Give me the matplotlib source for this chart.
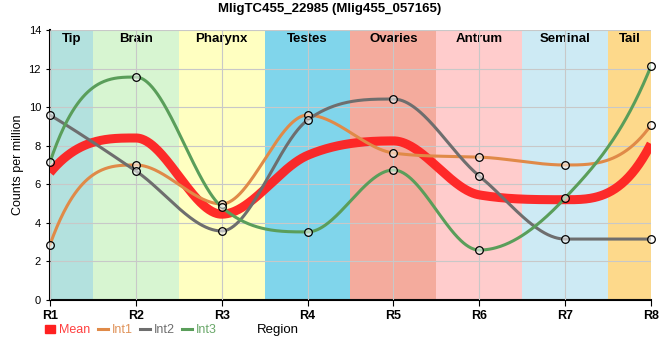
import numpy as np
import matplotlib
matplotlib.use("Agg")
import matplotlib.pyplot as plt
from matplotlib.patches import Patch
from matplotlib.lines import Line2D

plt.rcParams['font.family'] = ['Liberation Sans Narrow', 'Liberation Sans', 'DejaVu Sans']

regions = ["R1", "R2", "R3", "R4", "R5", "R6", "R7", "R8"]
mean = [6.6, 8.4, 4.45, 7.5, 8.25, 5.45, 5.2, 8.1]
int1 = [2.87, 7.0, 4.98, 9.59, 7.62, 7.41, 7.0, 9.07]
int2 = [9.59, 6.69, 3.58, 9.33, 10.42, 6.43, 3.16, 3.16]
int3 = [7.15, 11.56, 4.82, 3.53, 6.74, 2.59, 5.29, 12.13]

band_names = ["Tip", "Brain", "Pharynx", "Testes", "Ovaries", "Antrum", "Seminal", "Tail"]
band_colors = ["#b3e1de", "#d7f5d1", "#ffffc1", "#80d5eb", "#f4ab9d", "#ffcccc", "#cdeaf4", "#fdd98b"]


def smooth(y, xs):
    # monotone cubic (Fritsch-Carlson) through the points
    y = np.asarray(y, float)
    n = len(y)
    d = np.diff(y)
    m = np.zeros(n)
    for i in range(1, n - 1):
        if d[i - 1] * d[i] > 0:
            m[i] = (d[i - 1] + d[i]) / 2
    m[0] = 3 * d[0] - 2 * m[1]
    m[-1] = 3 * d[-1] - 2 * m[-2]
    for i, k in [(0, 0), (n - 1, n - 2)]:
        if m[i] * d[k] <= 0:
            m[i] = 0
        elif abs(m[i]) > 3 * abs(d[k]):
            m[i] = 3 * d[k]
    for k in range(n - 1):
        if d[k] == 0:
            m[k] = m[k + 1] = 0
            continue
        a, b = m[k] / d[k], m[k + 1] / d[k]
        if a * a + b * b > 9:
            tau = 3 / np.sqrt(a * a + b * b)
            m[k], m[k + 1] = tau * a * d[k], tau * b * d[k]
    out = np.empty_like(xs)
    for j, xv in enumerate(xs):
        k = min(int(np.floor(xv)), n - 2)
        t = xv - k
        out[j] = ((2 * t**3 - 3 * t**2 + 1) * y[k] + (t**3 - 2 * t**2 + t) * m[k]
                  + (-2 * t**3 + 3 * t**2) * y[k + 1] + (t**3 - t**2) * m[k + 1])
    return out


x = np.arange(len(regions))
xs = np.linspace(0, len(regions) - 1, 700)

fig = plt.figure(figsize=(6.6, 3.6), dpi=100)
ax = fig.add_axes([50 / 660, 60 / 360, 601 / 660, 270 / 360])

edges = [0, 0.5, 1.5, 2.5, 3.5, 4.5, 5.5, 6.5, 7]
for i, name in enumerate(band_names):
    ax.axvspan(edges[i], edges[i + 1], color=band_colors[i], lw=0, zorder=0)
    ax.text((edges[i] + edges[i + 1]) / 2, 13.85, name, ha="center", va="top",
            fontsize=9.5, fontweight="bold", zorder=1)

ax.grid(True, color="#c8c8c8", lw=0.8, zorder=1)
ax.set_axisbelow(False)

ax.plot(xs, smooth(mean, xs), color="#ff2020", lw=6.5, alpha=0.95, zorder=3, solid_capstyle="butt")
for vals, col in [(int1, "#e08a48"), (int2, "#6e6e6e"), (int3, "#5a9e5a")]:
    ax.plot(xs, smooth(vals, xs), color=col, lw=2.2, zorder=4)
    ax.plot(x, vals, "o", mfc=(1, 1, 1, 0.55), mec="black", ms=5.5, mew=0.9, zorder=5, clip_on=False)

ax.set_xlim(0, 7)
ax.set_ylim(0, 14)
ax.set_xticks(x)
ax.set_xticklabels(regions, fontsize=9, fontweight="bold")
ax.set_yticks(range(0, 15, 2))
ax.tick_params(axis="y", labelsize=8, length=3)
ax.tick_params(axis="x", length=4)
for s in ["top", "right"]:
    ax.spines[s].set_visible(False)
ax.spines["left"].set_linewidth(1.5)
ax.spines["bottom"].set_linewidth(1.5)
ax.set_ylabel("Counts per million", fontsize=9, labelpad=3)

fig.text(0.5, 0.975, "MligTC455_22985 (Mlig455_057165)", ha="center", va="center",
         fontsize=9.5, fontweight="bold")
fig.text(278 / 660, 30 / 360, "Region", ha="center", va="center", fontsize=9.5)

handles = [Patch(color="#ff2020", label="Mean"),
           Line2D([], [], color="#e08a48", lw=2.2, label="Int1"),
           Line2D([], [], color="#6e6e6e", lw=2.2, label="Int2"),
           Line2D([], [], color="#5a9e5a", lw=2.2, label="Int3")]
leg = fig.legend(handles=handles, loc="center left", bbox_to_anchor=(34 / 660, 30 / 360), ncol=4,
                 frameon=False, fontsize=9, handlelength=0.8, handleheight=0.6,
                 handletextpad=0.3, columnspacing=0.6)
for t, h in zip(leg.get_texts(), ["#ff4040", "#e0935a", "#6e6e6e", "#6aa86a"]):
    t.set_color(h)

fig.savefig("out.png", dpi=100)
